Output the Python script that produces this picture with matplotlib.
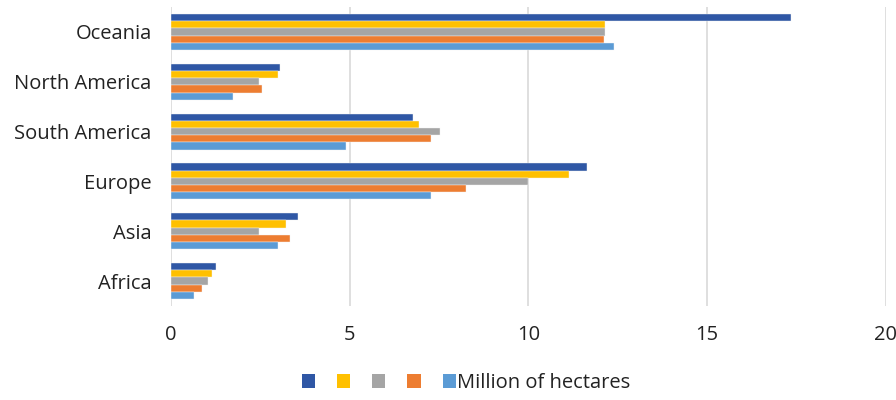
import matplotlib
matplotlib.use("Agg")
import matplotlib.pyplot as plt
from matplotlib.patches import Patch
import numpy as np

plt.rcParams['font.family'] = ['Open Sans', 'DejaVu Sans']

categories = ["Oceania", "North America", "South America", "Europe", "Asia", "Africa"]

# five series per region (top to bottom within each group)
series_1 = [17.35, 3.05, 6.78, 11.63, 3.54, 1.25]
series_2 = [12.14, 3.00, 6.93, 11.13, 3.22, 1.15]
series_3 = [12.14, 2.45, 7.53, 9.99, 2.45, 1.03]
series_4 = [12.10, 2.55, 7.26, 8.24, 3.33, 0.87]
series_5 = [12.40, 1.74, 4.89, 7.26, 2.99, 0.64]

series_labels = ["", "", "", "", "Million of hectares"]
xticks = [0, 5, 10, 15, 20]

colors = ["#2F57A5", "#FFC000", "#A5A5A5", "#ED7D31", "#5B9BD5"]
all_series = [series_1, series_2, series_3, series_4, series_5]

fig = plt.figure(figsize=(8.96, 4.0), dpi=100)
ax = fig.add_axes([0.1908, 0.235, 0.798, 0.7475])

n = len(categories)
y_centers = np.arange(n)[::-1].astype(float)
bar_h = 0.145
offsets = (np.arange(5) - 2) * bar_h

for i, (vals, col) in enumerate(zip(all_series, colors)):
    ax.barh(y_centers - offsets[i], vals, height=bar_h, color=col,
            edgecolor="#F2F2F2", linewidth=0.3, zorder=3)

ax.set_ylim(-0.5, n - 0.5)
ax.set_xlim(0, 20)
ax.set_xticks(xticks)
ax.set_xticklabels([str(t) for t in xticks], fontsize=14.5, color="#222222")
ax.set_yticks(y_centers)
ax.set_yticklabels(categories, fontsize=14.5, color="#222222")
ax.tick_params(axis="both", length=0)
ax.tick_params(axis="x", pad=14)
ax.tick_params(axis="y", pad=14)
for s in ax.spines.values():
    s.set_visible(False)
ax.grid(axis="x", color="#D9D9D9", linewidth=1.2, zorder=0)

handles = [Patch(facecolor=c, edgecolor="none") for c in colors]
fig.legend(handles, series_labels, loc="center", bbox_to_anchor=(0.52, 0.042),
           ncol=5, frameon=False, fontsize=14.5, handlelength=0.65, handleheight=0.65,
           handletextpad=0.05, columnspacing=1.05, labelcolor="#222222")

fig.savefig("out.png", dpi=100)
